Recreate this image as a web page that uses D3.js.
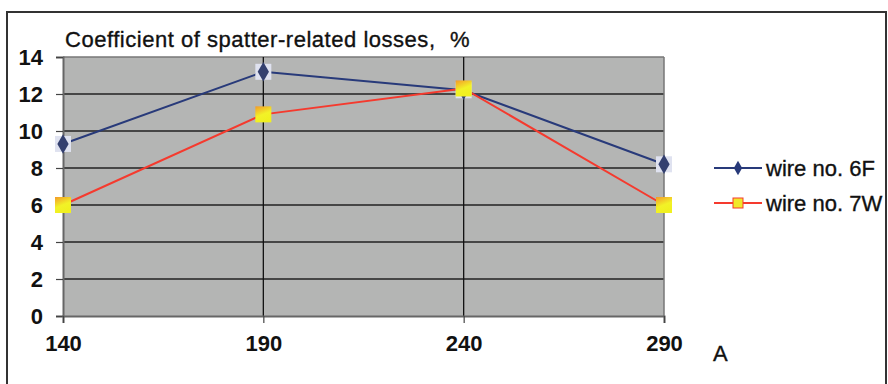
<!DOCTYPE html>
<html>
<head>
<meta charset="utf-8">
<script src="https://cdn.jsdelivr.net/npm/d3@7"></script>
<style>
  body { margin: 0; background: #fff; }
  svg { display: block; font-family: "Liberation Sans", Arial, sans-serif; }
</style>
</head>
<body>
<div id="mywrap"></div>
<script>
// data
const currents = [140, 190, 240, 290]
const wire6F = [9.3, 13.2, 12.2, 8.2]
const wire7W = [6.0, 10.9, 12.3, 6.0]
const yTicks = [0, 2, 4, 6, 8, 10, 12, 14]
const seriesNames = ["wire no. 6F", "wire no. 7W"]

let svg = d3.select("#mywrap").append("svg")
    .attr("width", 888)
    .attr("height", 384)

let margin = {top: 57, left: 63, right: 224, bottom: 68}
let width = 888 - margin.left - margin.right,
    height = 384 - margin.top - margin.bottom

// outer frame
svg.append("rect")
    .attr("x", 7).attr("y", 12)
    .attr("width", 879).attr("height", 380)
    .attr("fill", "none")
    .attr("stroke", "#333")
    .attr("stroke-width", 2)

let defs = svg.append("defs")
let grad = defs.append("linearGradient")
    .attr("id", "sq").attr("x1", 0).attr("y1", 0).attr("x2", 0.4).attr("y2", 1)
grad.append("stop").attr("offset", "0%").attr("stop-color", "#f39a2a")
grad.append("stop").attr("offset", "60%").attr("stop-color", "#f2f227")
grad.append("stop").attr("offset", "100%").attr("stop-color", "#f0f020")

let g = svg.append("g").attr("transform", `translate(${margin.left},${margin.top})`)

let xScale = d3.scaleLinear().domain([140, 290]).range([0, width])
let yScale = d3.scaleLinear().domain([0, 14]).range([height, 0])

g.append("rect")
    .attr("width", width).attr("height", height)
    .attr("fill", "#b4b5b4")

// horizontal grid
g.selectAll(".hg").data(yTicks.slice(1))
    .enter().append("line")
    .attr("x1", 0).attr("x2", width)
    .attr("y1", d => yScale(d)).attr("y2", d => yScale(d))
    .attr("stroke", d => d == 14 ? "#777" : "#222")
    .attr("stroke-width", 1.3)

// vertical grid
g.selectAll(".vg").data(currents.slice(1, 3))
    .enter().append("line")
    .attr("x1", d => xScale(d)).attr("x2", d => xScale(d))
    .attr("y1", 0).attr("y2", height)
    .attr("stroke", "#111")
    .attr("stroke-width", 1.3)

// right border of plot
g.append("line")
    .attr("x1", width).attr("x2", width).attr("y1", 0).attr("y2", height)
    .attr("stroke", "#777").attr("stroke-width", 1.5)

let yAxis = d3.axisLeft(yScale).tickValues(yTicks).tickSize(7).tickPadding(13)
let xAxis = d3.axisBottom(xScale).tickValues(currents).tickSize(7).tickPadding(12)

let ya = g.append("g").call(yAxis)
let xa = g.append("g").attr("transform", `translate(0,${height})`).call(xAxis)

for (let a of [ya, xa]) {
    a.select(".domain").attr("stroke", "#666").attr("stroke-width", 2)
    a.selectAll(".tick line").attr("stroke", "#444").attr("stroke-width", 1.2)
    a.selectAll("text")
        .attr("font-size", 22).attr("font-weight", "bold")
        .attr("fill", "#111")
        .attr("font-family", "Liberation Sans, Arial, sans-serif")
}
ya.selectAll("text").attr("dy", "0.36em")

let line = d3.line()
    .x((d, i) => xScale(currents[i]))
    .y(d => yScale(d))

g.append("path").datum(wire6F)
    .attr("d", line).attr("fill", "none")
    .attr("stroke", "#283a7a").attr("stroke-width", 2)

g.append("path").datum(wire7W)
    .attr("d", line).attr("fill", "none")
    .attr("stroke", "#f53a2e").attr("stroke-width", 2)

// diamond markers
let m6 = g.selectAll(".m6").data(wire6F).enter().append("g")
    .attr("transform", (d, i) => `translate(${xScale(currents[i])},${yScale(d)})`)
m6.append("rect")
    .attr("x", -8).attr("y", -8).attr("width", 16).attr("height", 16)
    .attr("fill", "#dfe2f0")
m6.append("path")
    .attr("d", d3.symbol().type(d3.symbolDiamond).size(110))
    .attr("fill", "#34406f")

// square markers
g.selectAll(".m7").data(wire7W).enter().append("rect")
    .attr("x", (d, i) => xScale(currents[i]) - 8)
    .attr("y", d => yScale(d) - 8)
    .attr("width", 16).attr("height", 16)
    .attr("fill", "url(#sq)")

// title
let heavy = sel => sel.attr("fill", "#111").attr("stroke", "#111").attr("stroke-width", 0.35)

svg.append("text")
    .attr("x", 65).attr("y", 47)
    .attr("font-size", 22)
    .attr("textLength", 370)
    .call(heavy)
    .text("Coefficient of spatter-related losses,")
svg.append("text")
    .attr("x", 450).attr("y", 47)
    .attr("font-size", 22)
    .call(heavy)
    .text("%")

svg.append("text")
    .attr("x", 713).attr("y", 361)
    .attr("font-size", 22)
    .call(heavy)
    .text("A")

// legend
let leg = svg.append("g").attr("transform", "translate(714,168)")
let cols = ["#283a7a", "#f53a2e"]
seriesNames.forEach((name, i) => {
    let row = leg.append("g").attr("transform", `translate(0,${i * 35})`)
    row.append("line").attr("x1", 0).attr("x2", 48)
        .attr("stroke", cols[i]).attr("stroke-width", 2)
    if (i == 0) {
        row.append("path").attr("transform", "translate(24,0)")
            .attr("d", d3.symbol().type(d3.symbolDiamond).size(60))
            .attr("fill", "#283a7a")
    } else {
        row.append("rect").attr("x", 19).attr("y", -5).attr("width", 10).attr("height", 10)
            .attr("fill", "#f0e82a").attr("stroke", "#f53a2e").attr("stroke-width", 1)
    }
    row.append("text").attr("x", 52).attr("y", 8)
        .attr("font-size", 22)
        .call(heavy)
        .text(name)
})
</script>
</body>
</html>
